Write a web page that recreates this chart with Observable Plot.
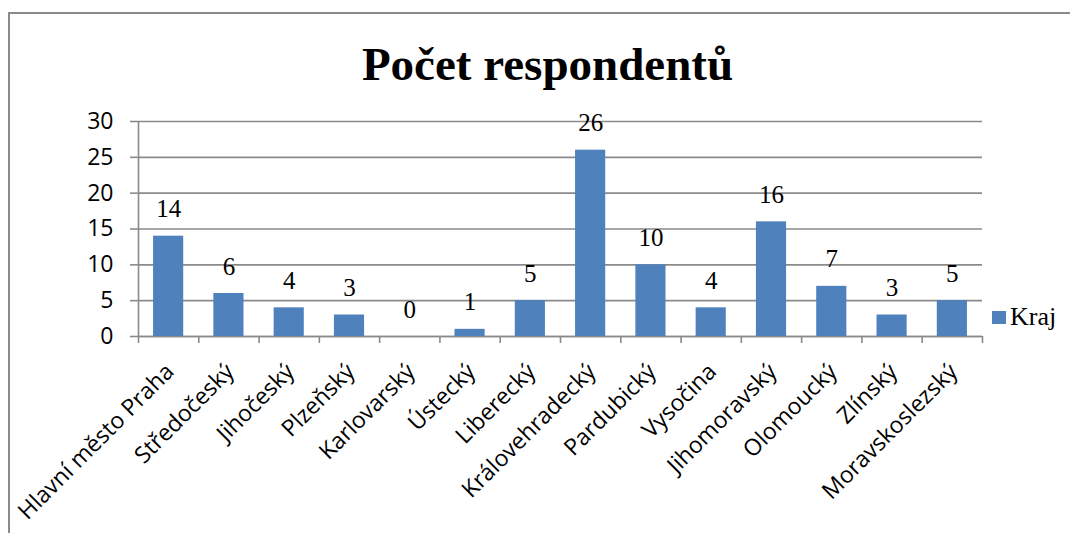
<!DOCTYPE html>
<html>
<head>
<meta charset="utf-8">
<script src="https://cdn.jsdelivr.net/npm/d3@7"></script>
<script src="https://cdn.jsdelivr.net/npm/@observablehq/plot@0.6"></script>
<style>
  html, body { margin: 0; padding: 0; background: #fff; overflow: hidden; }
  #wrap { position: relative; width: 1070px; height: 533px; }
  #frame { position: absolute; left: 8px; top: 12px; right: -10px; bottom: -10px;
           border-top: 2px solid #8a8a8a; border-left: 2px solid #8a8a8a; }
  #title { position: absolute; left: 0; width: 1095px; top: 41px; text-align: center;
           font-family: "Liberation Serif", serif; font-weight: bold; font-size: 47px; line-height: 1; }
  #legend { position: absolute; left: 992px; top: 302px; font-family: "Liberation Serif", serif;
            font-size: 26px; line-height: 30px; display: flex; align-items: center; }
  #legend .sw { width: 14px; height: 13px; background: #4F81BD; margin-right: 4px; }
  #chart { position: absolute; left: 0; top: 0; }
</style>
</head>
<body>
<div id="wrap">
  <div id="frame"></div>
  <div id="title">Počet respondentů</div>
  <div id="chart"></div>
  <div id="legend"><span class="sw"></span><span>Kraj</span></div>
</div>
<script>
const regions = ["Hlavní město Praha", "Středočeský", "Jihočeský", "Plzeňský", "Karlovarský",
  "Ústecký", "Liberecký", "Královehradecký", "Pardubický", "Vysočina", "Jihomoravský",
  "Olomoucký", "Zlínský", "Moravskoslezský"];
const respondents = [14, 6, 4, 3, 0, 1, 5, 26, 10, 4, 16, 7, 3, 5];
const yTicks = [0, 5, 10, 15, 20, 25, 30];

const data = regions.map((name, i) => ({name, value: respondents[i], i}));
const gray = "#8a8a8a";
const sans = "'Open Sans', sans-serif";

const chart = Plot.plot({
  width: 1070,
  height: 533,
  marginLeft: 138,
  marginRight: 88,
  marginTop: 121,
  marginBottom: 197,
  x: {type: "linear", domain: [0, regions.length], axis: null},
  y: {domain: [0, 30], axis: null},
  style: {background: "transparent"},
  marks: [
    Plot.ruleY(yTicks, {stroke: gray, strokeWidth: 1.6, strokeOpacity: 1}),
    Plot.axisY({ticks: yTicks, tickSize: 8, tickPadding: 17, stroke: gray, strokeWidth: 1.6, strokeOpacity: 1,
      fontSize: 23, fontFamily: sans, fill: "#000", label: null}),
    Plot.axisX({ticks: d3.range(regions.length + 1), tickSize: 7, tickFormat: () => "", stroke: gray,
      strokeWidth: 1.6, strokeOpacity: 1, label: null}),
    Plot.ruleX([0], {stroke: gray, strokeWidth: 1.6}),
    Plot.ruleY([0], {stroke: gray, strokeWidth: 1.6}),
    Plot.rectY(data, {x1: d => d.i + 0.25, x2: d => d.i + 0.75, y: "value", fill: "#4F81BD"}),
    Plot.text(data, {x: d => d.i + 0.5, y: "value", text: d => String(d.value), dy: -27,
      fontFamily: "Liberation Serif", fontSize: 25, fill: "#000"}),
    Plot.text(data, {x: d => d.i + 0.5, y: 0, text: "name", rotate: -45, textAnchor: "end",
      lineAnchor: "top", dx: -5, dy: 25, fontFamily: sans, fontSize: 23, fill: "#000"})
  ]
});
document.getElementById("chart").appendChild(chart);
</script>
</body>
</html>
